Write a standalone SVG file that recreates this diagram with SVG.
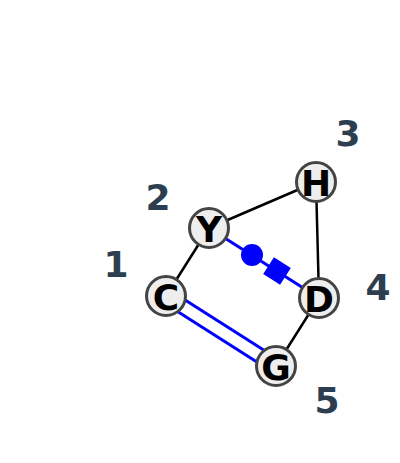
<svg xmlns="http://www.w3.org/2000/svg" width="400" height="463" viewBox="0 0 400 463">
<style>
.e{stroke:#000;stroke-width:2.5;fill:none}
.b{stroke:#0000ff;stroke-width:3;fill:none}
.n circle{fill:#eeeeee;stroke:#444;stroke-width:3}
.n text{font-family:"DejaVu Sans",sans-serif;font-weight:bold;font-size:36px;fill:#000;text-anchor:middle;dominant-baseline:central}
.l{font-family:"DejaVu Sans",sans-serif;font-weight:bold;font-size:36px;fill:#2c3e50;text-anchor:middle;dominant-baseline:central}
</style>
<g id="connectors">
<line class="e" x1="166" y1="296" x2="209" y2="228"/>
<line class="e" x1="209" y1="228" x2="316" y2="182"/>
<line class="e" x1="316" y1="182" x2="319" y2="298"/>
<line class="e" x1="319" y1="298" x2="276" y2="366"/>
<line class="b" x1="209" y1="228" x2="319" y2="298"/>
<circle cx="252" cy="255" r="11" fill="#0000ff"/>
<rect x="-10" y="-10" width="20" height="20" fill="#0000ff" transform="translate(277,271) rotate(32.5)"/>
<line class="b" x1="168.2" y1="289.3" x2="278.2" y2="359.3"/>
<line class="b" x1="163.8" y1="302.7" x2="273.8" y2="372.7"/>
</g>
<g id="node-C" class="n"><circle cx="166" cy="296" r="19.5"/><text x="166" y="297">C</text></g>
<g id="node-Y" class="n"><circle cx="209" cy="228" r="19.5"/><text x="209" y="229">Y</text></g>
<g id="node-H" class="n"><circle cx="316" cy="182" r="19.5"/><text x="316" y="183">H</text></g>
<g id="node-D" class="n"><circle cx="319" cy="298" r="19.5"/><text x="319" y="299">D</text></g>
<g id="node-G" class="n"><circle cx="276" cy="366" r="19.5"/><text x="276" y="367">G</text></g>
<g id="labels">
<text class="l" x="116" y="264">1</text>
<text class="l" x="158" y="197">2</text>
<text class="l" x="348" y="133">3</text>
<text class="l" x="378" y="287">4</text>
<text class="l" x="327" y="400">5</text>
</g>
</svg>
